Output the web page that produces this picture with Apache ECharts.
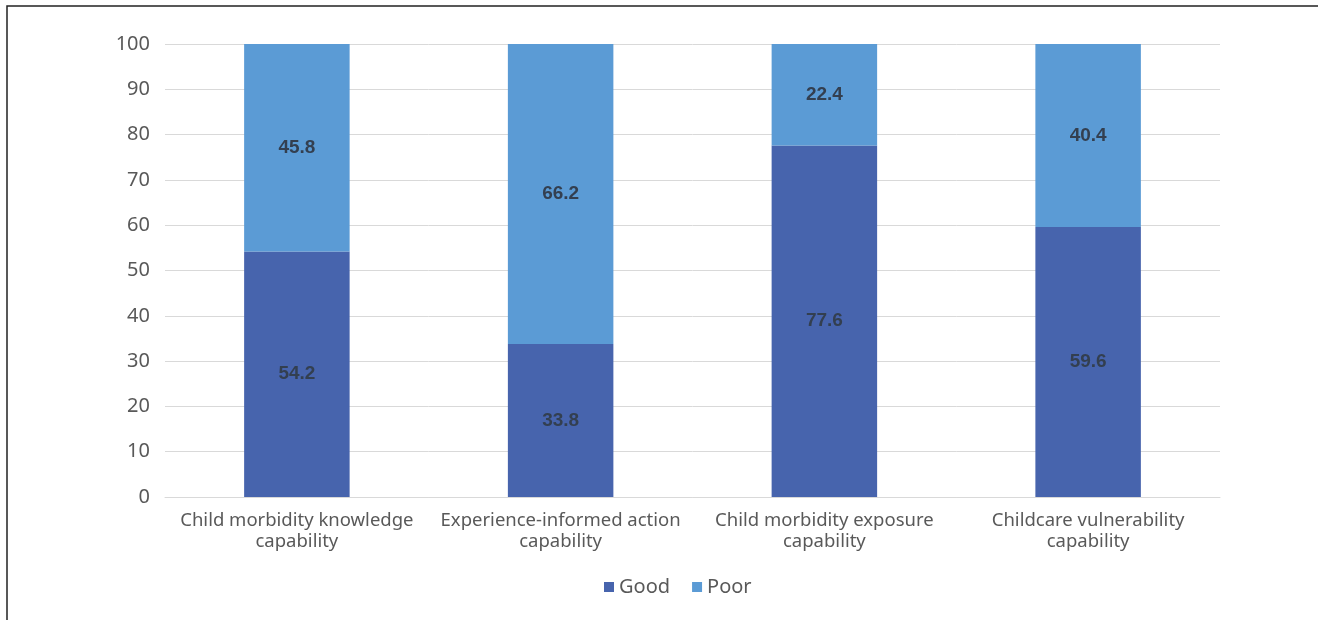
<!DOCTYPE html>
<html>
<head>
<meta charset="utf-8">
<script src="https://cdn.jsdelivr.net/npm/echarts@6/dist/echarts.min.js"></script>
<style>
  html, body { margin: 0; padding: 0; background: #fff; }
  #main { width: 1318px; height: 620px; }
</style>
</head>
<body>
<div id="main"></div>
<script>
// categories and values
var categories = [
  'Child morbidity knowledge\ncapability',
  'Experience-informed action\ncapability',
  'Child morbidity exposure\ncapability',
  'Childcare vulnerability\ncapability'
];
var good = [54.2, 33.8, 77.6, 59.6];
var poor = [45.8, 66.2, 22.4, 40.4];

var chart = echarts.init(document.getElementById('main'));

var labelStyle = {
  show: true,
  position: 'inside',
  color: '#333f50',
  fontSize: 19,
  fontWeight: 'bold',
  fontFamily: 'Arial, Liberation Sans, sans-serif'
};

var option = {
  animation: false,
  graphic: [{
    type: 'rect',
    shape: { x: 7, y: 6, width: 1330, height: 640 },
    style: { fill: 'none', stroke: '#222', lineWidth: 1.5 }
  }],
  grid: { left: 165, right: 98, top: 44, bottom: 123 },
  legend: {
    bottom: 18,
    left: 599,
    itemWidth: 10,
    itemHeight: 10,
    itemGap: 22,
    icon: 'rect',
    textStyle: { color: '#595959', fontSize: 20, fontFamily: 'Noto Sans, sans-serif' },
    data: ['Good', 'Poor']
  },
  xAxis: {
    type: 'category',
    data: categories,
    axisLine: { lineStyle: { color: '#d9d9d9' } },
    axisTick: { show: false },
    axisLabel: {
      color: '#595959',
      fontSize: 18.5,
      lineHeight: 21,
      margin: 13,
      interval: 0,
      fontFamily: 'Noto Sans, sans-serif'
    }
  },
  yAxis: {
    type: 'value',
    min: 0,
    max: 100,
    interval: 10,
    axisLine: { show: false },
    axisTick: { show: false },
    axisLabel: { color: '#595959', fontSize: 20, margin: 15, fontFamily: 'Noto Sans, sans-serif' },
    splitLine: { lineStyle: { color: '#d9d9d9' } }
  },
  series: [
    {
      name: 'Good',
      type: 'bar',
      stack: 'total',
      barWidth: '40%',
      data: good,
      itemStyle: { color: '#4764ad' },
      label: labelStyle
    },
    {
      name: 'Poor',
      type: 'bar',
      stack: 'total',
      barWidth: '40%',
      data: poor,
      itemStyle: { color: '#5b9bd5' },
      label: labelStyle
    }
  ]
};

chart.setOption(option);
</script>
</body>
</html>
